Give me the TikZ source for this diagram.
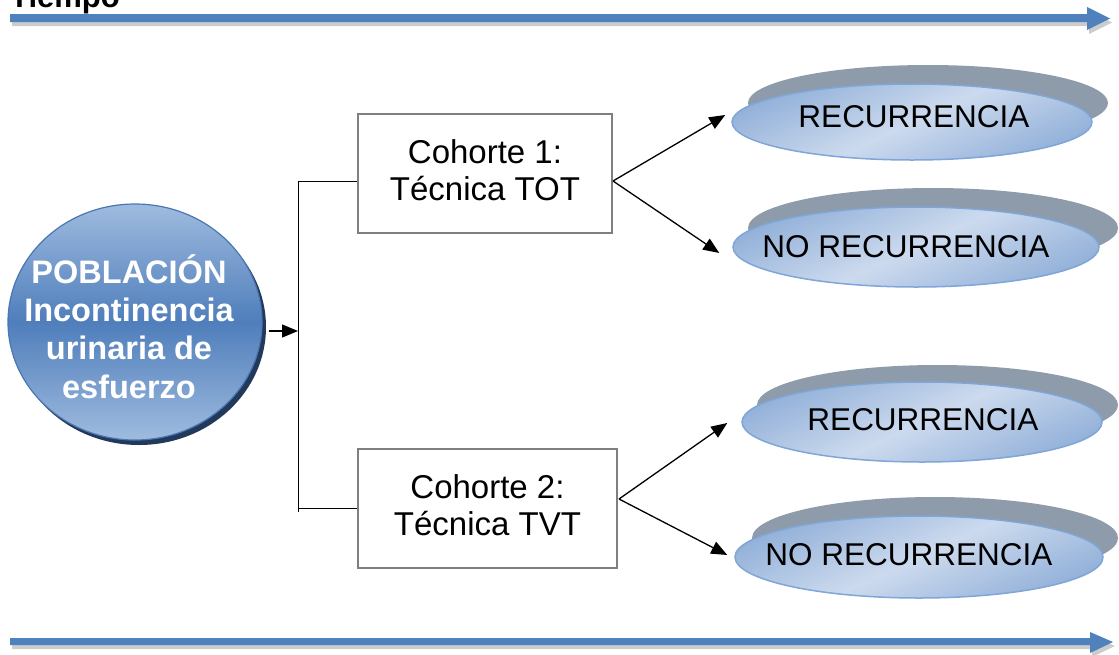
\documentclass[tikz,border=0pt]{standalone}
\usepackage{fontspec}
\setmainfont{Liberation Sans}
\usetikzlibrary{shapes.geometric,arrows.meta,calc,shadows}
\definecolor{tblue}{HTML}{4F81BD}
\definecolor{cLight}{HTML}{9FBBDF}
\definecolor{cMid}{HTML}{4F7EBB}
\definecolor{cBorder}{HTML}{4A76B2}
\definecolor{cShadow}{HTML}{22395C}
\definecolor{eBack}{HTML}{8D9BAA}
\definecolor{eA}{HTML}{93B1D9}
\definecolor{eB}{HTML}{CCDAEE}
\definecolor{eBorder}{HTML}{7FA6D6}
\definecolor{boxgray}{HTML}{7F7F7F}
\begin{document}
\begin{tikzpicture}[x=1pt,y=-1pt,
  txt/.style={font=\fontsize{31.5}{37}\selectfont, inner sep=0pt},
  cohort/.style={draw=boxgray, line width=2pt, fill=white, align=center, inner sep=0pt,
    font=\fontsize{33}{37}\selectfont, text depth=7pt},
  front/.style={ellipse, draw=eBorder, line width=1.5pt, inner sep=0pt,
    top color=eA, bottom color=eA, middle color=eB, shading angle=25},
  arr/.style={line width=1.3pt, -{Triangle[length=16pt,width=13pt]}},
  conn/.style={line width=1pt},
  timearrow/.style={fill=tblue},
  tshadow/.style={fill=black, opacity=0.2}]
\useasboundingbox (0,0) rectangle (1119,654);
\clip (0,0) rectangle (1119,654);

% Tiempo
\node[txt, font=\fontsize{31}{37}\selectfont\bfseries, anchor=base west] (tiempo) at (10,7) {Tiempo};

% top time arrow
\fill[tshadow] (12,18) -- (1089,18) -- (1089,11) -- (1112,22.5) -- (1089,34) -- (1089,26) -- (12,26) -- cycle;
\fill[timearrow] (10,14) -- (1087,14) -- (1087,7) -- (1110,18.5) -- (1087,30) -- (1087,22) -- (10,22) -- cycle;

% bottom time arrow
\fill[tshadow] (12,642) -- (1092,642) -- (1092,636) -- (1115,646) -- (1092,657) -- (1092,649) -- (12,649) -- cycle;
\fill[timearrow] (10,638) -- (1090,638) -- (1090,632) -- (1113,642) -- (1090,653) -- (1090,645) -- (10,645) -- cycle;

% population circle
\node[ellipse, minimum width=254pt, minimum height=236pt, inner sep=0pt,
  draw=cBorder, line width=1.2pt,
  top color=cLight, bottom color=cLight, middle color=cMid,
  drop shadow={shadow xshift=4pt, shadow yshift=-5pt, fill=cShadow, opacity=1}]
  (pop) at (135,322) {};
\node[inner sep=0pt, align=center, text=white, font=\fontsize{32.5}{38.3}\selectfont\bfseries]
  (poptext) at (129,326.5) {POBLACIÓN\\Incontinencia\\urinaria de\\esfuerzo};

% cohorts
\node[cohort, minimum width=254pt, minimum height=119pt] (c1) at (485,173.5) {Cohorte 1:\\Técnica TOT};
\node[cohort, minimum width=259pt, minimum height=119pt] (c2) at (487.5,508.5) {Cohorte 2:\\Técnica TVT};

% junction
\coordinate (jt) at (298,181);
\coordinate (jb) at (298,512);
\coordinate (jm) at (298,331);
\draw[conn] (jt) -- (jb);
\draw[conn] (jt) -- (c1.west |- jt);
\draw[conn] (jb |- c2.west) -- (c2.west);
\draw[arr] ($(pop.east |- jm)+(6,0)$) -- (jm);

% outcome ellipses
\fill[eBack] (928,103) ellipse [x radius=180pt, y radius=38pt];
\node[front, minimum width=360pt, minimum height=76pt] (e1) at (912,122) {};
\node[txt, anchor=base] (e1t) at (914,127) {RECURRENCIA};

\fill[eBack] (933,228) ellipse [x radius=185pt, y radius=40pt];
\node[front, minimum width=366pt, minimum height=80pt] (e2) at (916,247) {};
\node[txt, anchor=base] (e2t) at (906,257) {NO RECURRENCIA};

\fill[eBack] (937.5,405) ellipse [x radius=180.5pt, y radius=40pt];
\node[front, minimum width=360pt, minimum height=80pt] (e3) at (922,422) {};
\node[txt, anchor=base] (e3t) at (923,430) {RECURRENCIA};

\fill[eBack] (935,538) ellipse [x radius=183pt, y radius=41pt];
\node[front, minimum width=368pt, minimum height=82pt] (e4) at (919,557) {};
\node[txt, anchor=base] (e4t) at (909,565) {NO RECURRENCIA};

% arrows to outcomes
\draw[arr] ($(c1.east)+(0,7.5)$) -- ($(e1.west)+(-6,-7)$);
\draw[arr] ($(c1.east)+(0,7.5)$) -- ($(e2.west)+(-13,6)$);
\draw[arr] ($(c2.east)+(1,-9.5)$) -- ($(e3.west)+(-14,1)$);
\draw[arr] ($(c2.east)+(1,-9.5)$) -- ($(e4.west)+(-7,-2)$);
\end{tikzpicture}
\end{document}
